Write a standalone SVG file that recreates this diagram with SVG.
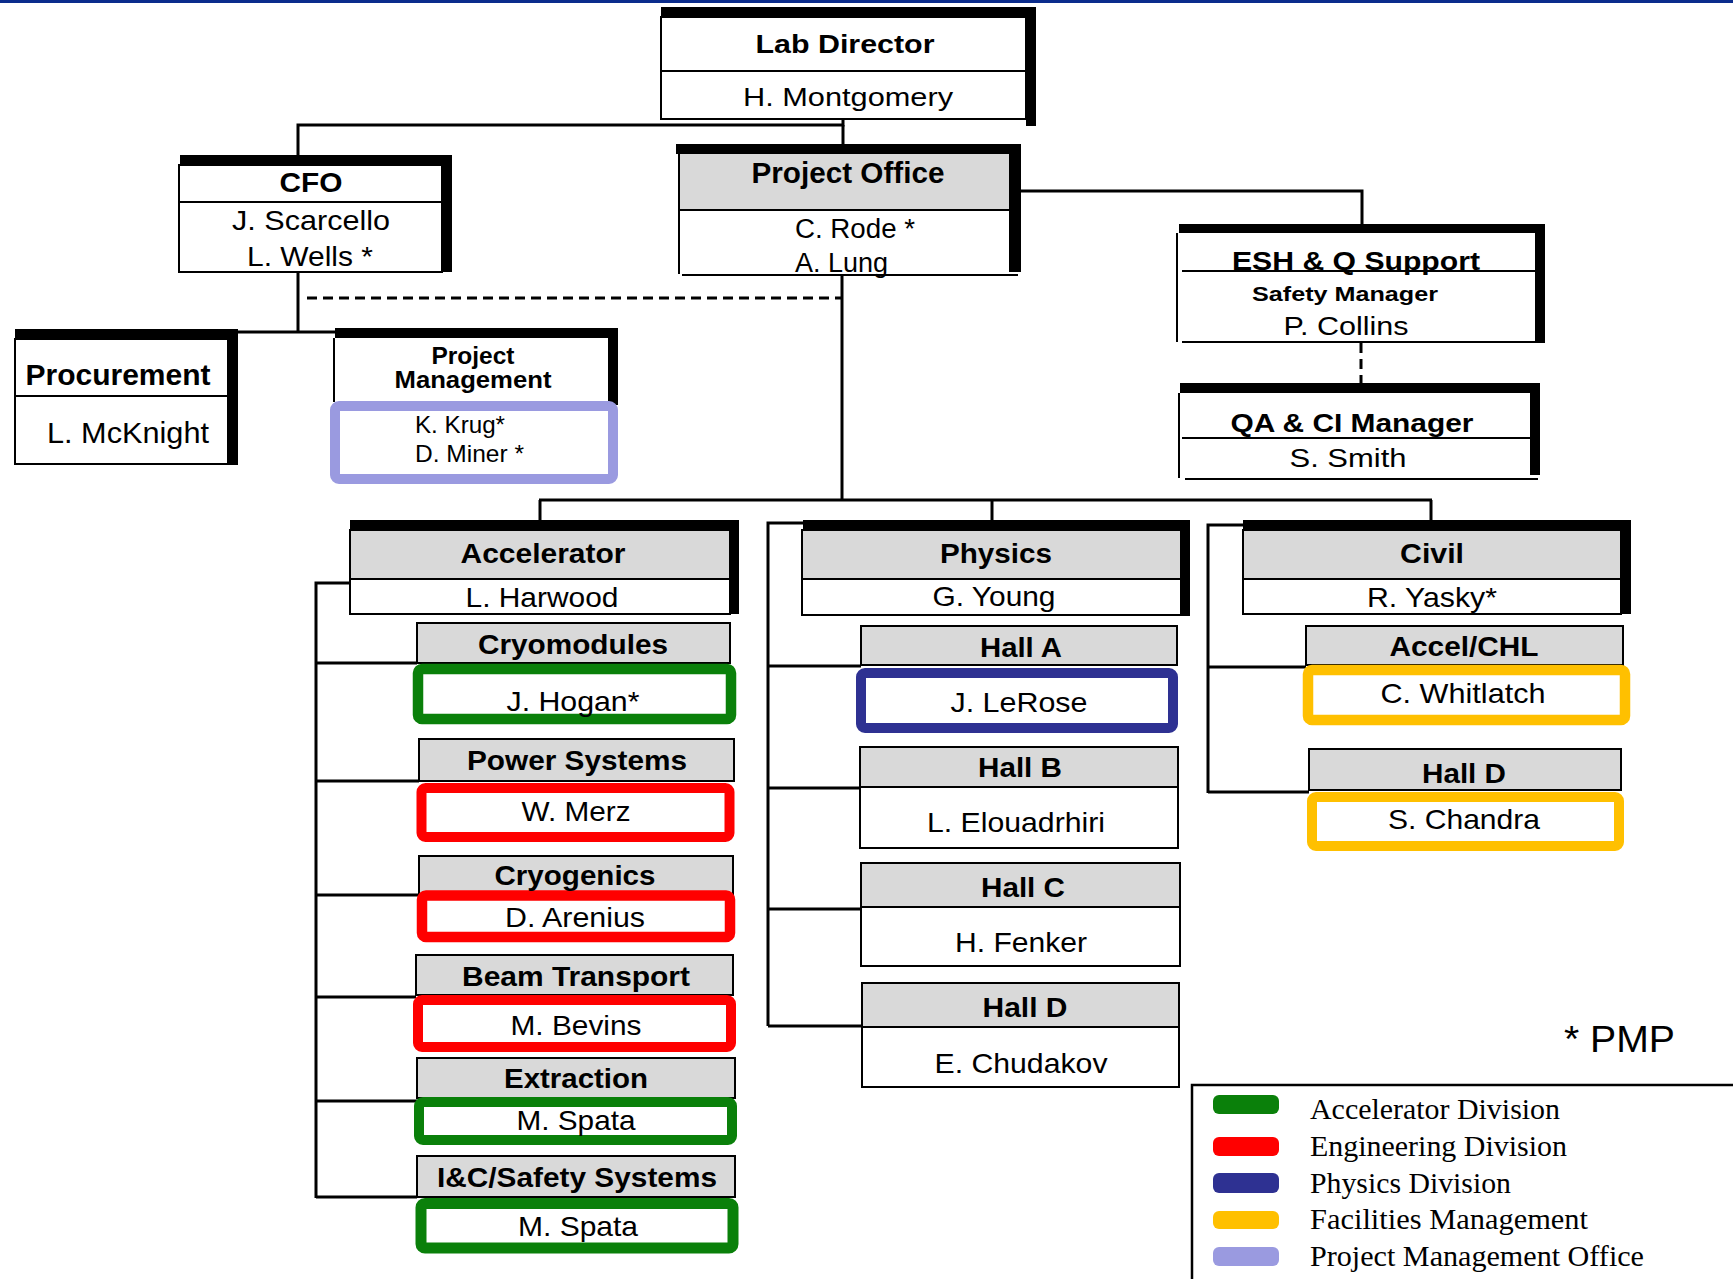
<svg xmlns="http://www.w3.org/2000/svg" width="1733" height="1279" viewBox="0 0 1733 1279">
<style>
text{font-family:"Liberation Sans",Arial,sans-serif;fill:#000}
.hd{font-weight:bold;text-anchor:middle}
.nm{text-anchor:middle}
.st{text-anchor:start}
.bar{fill:#000}
.bd{fill:#fff;stroke:#000;stroke-width:2}
.ln{stroke:#000;stroke-width:2;fill:none}
.gr{fill:#d9d9d9;stroke:#000;stroke-width:2}
.gf{fill:#d9d9d9}
.con{stroke:#000;stroke-width:3;fill:none}
.dash{stroke-dasharray:10 6}
.cg{fill:#fff;stroke:#0a800a;rx:4}
.cr{fill:#fff;stroke:#ff0000;rx:4}
.cb{fill:#fff;stroke:#2e3192;rx:4}
.cy{fill:#fff;stroke:#ffc000;rx:4}
.cl{fill:#fff;stroke:#9a9ae0;rx:4}
.lg{font-family:"Liberation Serif","Times New Roman",serif;font-size:29px}
</style>
<rect x="0" y="0" width="1733" height="3" fill="#0b2c8c"/>

<g id="connectors">
<polyline class="con" points="843,119 843,125 298,125 298,155"/>
<line class="con" x1="843" y1="125" x2="843" y2="144"/>
<polyline class="con" points="1021,191 1362,191 1362,224"/>
<line class="con" x1="298" y1="272" x2="298" y2="332"/>
<line class="con" x1="237" y1="332" x2="335" y2="332"/>
<line class="con dash" x1="307" y1="298" x2="842" y2="298"/>
<line class="con" x1="842" y1="275" x2="842" y2="500"/>
<line class="con" x1="539" y1="500" x2="1432" y2="500"/>
<line class="con" x1="540" y1="500" x2="540" y2="520"/>
<line class="con" x1="992" y1="500" x2="992" y2="520"/>
<line class="con" x1="1431" y1="500" x2="1431" y2="520"/>
<line class="con dash" x1="1361" y1="343" x2="1361" y2="383"/>
<polyline class="con" points="350,583 316,583 316,1198"/>
<line class="con" x1="316" y1="663" x2="417" y2="663"/>
<line class="con" x1="316" y1="781" x2="419" y2="781"/>
<line class="con" x1="316" y1="895" x2="419" y2="895"/>
<line class="con" x1="316" y1="997" x2="416" y2="997"/>
<line class="con" x1="316" y1="1101" x2="417" y2="1101"/>
<line class="con" x1="316" y1="1197" x2="417" y2="1197"/>
<polyline class="con" points="803,523 768,523 768,1026"/>
<line class="con" x1="768" y1="666" x2="861" y2="666"/>
<line class="con" x1="768" y1="788" x2="860" y2="788"/>
<line class="con" x1="768" y1="909" x2="861" y2="909"/>
<line class="con" x1="768" y1="1026" x2="862" y2="1026"/>
<polyline class="con" points="1243,525 1208,525 1208,793"/>
<line class="con" x1="1208" y1="667" x2="1306" y2="667"/>
<line class="con" x1="1208" y1="792" x2="1309" y2="792"/>
</g>

<g id="lab-director">
<rect class="bd" x="661" y="17" width="365" height="102"/>
<line class="ln" x1="661" y1="71" x2="1026" y2="71"/>
<rect class="bar" x="661" y="7" width="375" height="10"/>
<rect class="bar" x="1026" y="7" width="10" height="119"/>
<text class="hd" x="845" y="53" font-size="26" textLength="179" lengthAdjust="spacingAndGlyphs">Lab Director</text>
<text class="nm" x="848" y="106" font-size="26" textLength="210" lengthAdjust="spacingAndGlyphs">H. Montgomery</text>
</g>

<g id="cfo">
<rect class="bd" x="179" y="165" width="263" height="107"/>
<line class="ln" x1="179" y1="202" x2="442" y2="202"/>
<rect class="bar" x="180" y="155" width="272" height="10"/>
<rect class="bar" x="442" y="155" width="10" height="117"/>
<text class="hd" x="311" y="192" font-size="28" textLength="63" lengthAdjust="spacingAndGlyphs">CFO</text>
<text class="nm" x="311" y="230" font-size="28" textLength="158" lengthAdjust="spacingAndGlyphs">J. Scarcello</text>
<text class="nm" x="310" y="266" font-size="28" textLength="126" lengthAdjust="spacingAndGlyphs">L. Wells *</text>
</g>

<g id="procurement">
<rect class="bd" x="15" y="339" width="213" height="125"/>
<line class="ln" x1="15" y1="396" x2="228" y2="396"/>
<rect class="bar" x="15" y="329" width="223" height="10"/>
<rect class="bar" x="228" y="329" width="10" height="136"/>
<text class="hd" x="118" y="385" font-size="30" textLength="185" lengthAdjust="spacingAndGlyphs">Procurement</text>
<text class="nm" x="128" y="443" font-size="29" textLength="162" lengthAdjust="spacingAndGlyphs">L. McKnight</text>
</g>

<g id="project-management">
<line class="ln" x1="334" y1="338" x2="334" y2="402"/>
<rect class="bar" x="335" y="328" width="283" height="10"/>
<rect class="bar" x="608" y="328" width="10" height="77"/>
<rect class="cl" x="335" y="406" width="278" height="73" stroke-width="10"/>
<text class="hd" x="473" y="364" font-size="23" textLength="83" lengthAdjust="spacingAndGlyphs">Project</text>
<text class="hd" x="473" y="388" font-size="23" textLength="157" lengthAdjust="spacingAndGlyphs">Management</text>
<text class="st" x="415" y="433" font-size="24" textLength="90" lengthAdjust="spacingAndGlyphs">K. Krug*</text>
<text class="st" x="415" y="462" font-size="24" textLength="109" lengthAdjust="spacingAndGlyphs">D. Miner *</text>
</g>

<g id="project-office">
<rect class="gf" x="679" y="154" width="330" height="56"/>
<line class="ln" x1="679" y1="154" x2="679" y2="274"/>
<line class="ln" x1="679" y1="210" x2="1009" y2="210"/>
<line class="ln" x1="682" y1="275" x2="1018" y2="275"/>
<rect class="bar" x="676" y="144" width="345" height="10"/>
<rect class="bar" x="1009" y="144" width="12" height="128"/>
<text class="hd" x="848" y="183" font-size="29" textLength="193" lengthAdjust="spacingAndGlyphs">Project Office</text>
<text class="st" x="795" y="238" font-size="27" textLength="120" lengthAdjust="spacingAndGlyphs">C. Rode *</text>
<text class="st" x="795" y="272" font-size="27" textLength="93" lengthAdjust="spacingAndGlyphs">A. Lung</text>
</g>

<g id="esh-q-support">
<line class="ln" x1="1177" y1="233" x2="1177" y2="342"/>
<line class="ln" x1="1182" y1="271" x2="1535" y2="271"/>
<line class="ln" x1="1182" y1="342" x2="1535" y2="342"/>
<rect class="bar" x="1179" y="224" width="366" height="9"/>
<rect class="bar" x="1535" y="224" width="10" height="119"/>
<text class="hd" x="1356" y="270" font-size="26" textLength="248" lengthAdjust="spacingAndGlyphs">ESH &amp; Q Support</text>
<text class="hd" x="1345" y="301" font-size="21" textLength="186" lengthAdjust="spacingAndGlyphs">Safety Manager</text>
<text class="nm" x="1346" y="335" font-size="26" textLength="125" lengthAdjust="spacingAndGlyphs">P. Collins</text>
</g>

<g id="qa-ci-manager">
<line class="ln" x1="1179" y1="393" x2="1179" y2="478"/>
<line class="ln" x1="1182" y1="438" x2="1530" y2="438"/>
<line class="ln" x1="1185" y1="479" x2="1538" y2="479"/>
<rect class="bar" x="1180" y="383" width="360" height="10"/>
<rect class="bar" x="1530" y="383" width="10" height="92"/>
<text class="hd" x="1352" y="432" font-size="25" textLength="243" lengthAdjust="spacingAndGlyphs">QA &amp; CI Manager</text>
<text class="nm" x="1348" y="467" font-size="26" textLength="117" lengthAdjust="spacingAndGlyphs">S. Smith</text>
</g>

<g id="accelerator">
<rect class="bd" x="350" y="530" width="380" height="84"/>
<rect class="gr" x="350" y="530" width="380" height="49"/>
<rect class="bar" x="350" y="520" width="389" height="10"/>
<rect class="bar" x="730" y="520" width="9" height="94"/>
<text class="hd" x="543" y="563" font-size="28" textLength="165" lengthAdjust="spacingAndGlyphs">Accelerator</text>
<text class="nm" x="542" y="607" font-size="28" textLength="153" lengthAdjust="spacingAndGlyphs">L. Harwood</text>
</g>

<g id="physics">
<rect class="bd" x="802" y="530" width="379" height="85"/>
<rect class="gr" x="802" y="530" width="379" height="49"/>
<rect class="bar" x="803" y="520" width="387" height="10"/>
<rect class="bar" x="1181" y="520" width="9" height="96"/>
<text class="hd" x="996" y="563" font-size="28" textLength="112" lengthAdjust="spacingAndGlyphs">Physics</text>
<text class="nm" x="994" y="606" font-size="28" textLength="123" lengthAdjust="spacingAndGlyphs">G. Young</text>
</g>

<g id="civil">
<rect class="bd" x="1243" y="530" width="378" height="84"/>
<rect class="gr" x="1243" y="530" width="378" height="49"/>
<rect class="bar" x="1243" y="520" width="388" height="10"/>
<rect class="bar" x="1621" y="520" width="10" height="94"/>
<text class="hd" x="1432" y="563" font-size="28" textLength="64" lengthAdjust="spacingAndGlyphs">Civil</text>
<text class="nm" x="1432" y="607" font-size="28" textLength="130" lengthAdjust="spacingAndGlyphs">R. Yasky*</text>
</g>

<g id="cryomodules">
<rect class="gr" x="417" y="623" width="313" height="40"/>
<rect class="cg" x="418" y="669" width="313" height="50" stroke-width="10.5"/>
<text class="hd" x="573" y="654" font-size="27" textLength="190" lengthAdjust="spacingAndGlyphs">Cryomodules</text>
<text class="nm" x="573" y="711" font-size="28" textLength="133" lengthAdjust="spacingAndGlyphs">J. Hogan*</text>
</g>

<g id="power-systems">
<rect class="gr" x="419" y="739" width="315" height="42"/>
<rect class="cr" x="421.5" y="788" width="308" height="49" stroke-width="10"/>
<text class="hd" x="577" y="770" font-size="27" textLength="220" lengthAdjust="spacingAndGlyphs">Power Systems</text>
<text class="nm" x="576" y="821" font-size="28" textLength="109" lengthAdjust="spacingAndGlyphs">W. Merz</text>
</g>

<g id="cryogenics">
<rect class="gr" x="419" y="856" width="314" height="39"/>
<rect class="cr" x="422" y="895.5" width="308" height="41.5" stroke-width="10.5"/>
<text class="hd" x="575" y="885" font-size="27" textLength="161" lengthAdjust="spacingAndGlyphs">Cryogenics</text>
<text class="nm" x="575" y="927" font-size="28" textLength="140" lengthAdjust="spacingAndGlyphs">D. Arenius</text>
</g>

<g id="beam-transport">
<rect class="gr" x="416" y="955" width="317" height="40"/>
<rect class="cr" x="418" y="1000" width="313" height="47" stroke-width="10"/>
<text class="hd" x="576" y="986" font-size="27" textLength="228" lengthAdjust="spacingAndGlyphs">Beam Transport</text>
<text class="nm" x="576" y="1035" font-size="28" textLength="131" lengthAdjust="spacingAndGlyphs">M. Bevins</text>
</g>

<g id="extraction">
<rect class="gr" x="417" y="1058" width="318" height="40"/>
<rect class="cg" x="419" y="1102" width="313" height="38" stroke-width="10"/>
<text class="hd" x="576" y="1088" font-size="27" textLength="144" lengthAdjust="spacingAndGlyphs">Extraction</text>
<text class="nm" x="576" y="1130" font-size="28" textLength="119" lengthAdjust="spacingAndGlyphs">M. Spata</text>
</g>

<g id="ic-safety-systems">
<rect class="gr" x="417" y="1156" width="318" height="41"/>
<rect class="cg" x="421" y="1203.5" width="312" height="44.5" stroke-width="11"/>
<text class="hd" x="577" y="1187" font-size="27" textLength="280" lengthAdjust="spacingAndGlyphs">I&amp;C/Safety Systems</text>
<text class="nm" x="578" y="1236" font-size="28" textLength="120" lengthAdjust="spacingAndGlyphs">M. Spata</text>
</g>

<g id="hall-a">
<rect class="gr" x="861" y="626" width="316" height="39"/>
<rect class="cb" x="861" y="673" width="312" height="55" stroke-width="10"/>
<text class="hd" x="1021" y="657" font-size="27" textLength="82" lengthAdjust="spacingAndGlyphs">Hall A</text>
<text class="nm" x="1019" y="712" font-size="28" textLength="137" lengthAdjust="spacingAndGlyphs">J. LeRose</text>
</g>

<g id="hall-b">
<rect class="gr" x="860" y="747" width="318" height="40"/>
<rect class="bd" x="860" y="787" width="318" height="61"/>
<text class="hd" x="1020" y="777" font-size="27" textLength="84" lengthAdjust="spacingAndGlyphs">Hall B</text>
<text class="nm" x="1016" y="832" font-size="28" textLength="178" lengthAdjust="spacingAndGlyphs">L. Elouadrhiri</text>
</g>

<g id="hall-c">
<rect class="gr" x="861" y="863" width="319" height="44"/>
<rect class="bd" x="861" y="907" width="319" height="59"/>
<text class="hd" x="1023" y="897" font-size="27" textLength="84" lengthAdjust="spacingAndGlyphs">Hall C</text>
<text class="nm" x="1021" y="952" font-size="28" textLength="132" lengthAdjust="spacingAndGlyphs">H. Fenker</text>
</g>

<g id="hall-d-physics">
<rect class="gr" x="862" y="983" width="317" height="44"/>
<rect class="bd" x="862" y="1027" width="317" height="60"/>
<text class="hd" x="1025" y="1017" font-size="27" textLength="85" lengthAdjust="spacingAndGlyphs">Hall D</text>
<text class="nm" x="1021" y="1073" font-size="28" textLength="173" lengthAdjust="spacingAndGlyphs">E. Chudakov</text>
</g>

<g id="accel-chl">
<rect class="gr" x="1306" y="626" width="317" height="39"/>
<rect class="cy" x="1308" y="670" width="317" height="50" stroke-width="10.5"/>
<text class="hd" x="1464" y="656" font-size="27" textLength="149" lengthAdjust="spacingAndGlyphs">Accel/CHL</text>
<text class="nm" x="1463" y="703" font-size="28" textLength="165" lengthAdjust="spacingAndGlyphs">C. Whitlatch</text>
</g>

<g id="hall-d-civil">
<rect class="gr" x="1309" y="749" width="312" height="41"/>
<rect class="cy" x="1312" y="797" width="307" height="49" stroke-width="10"/>
<text class="hd" x="1464" y="783" font-size="27" textLength="84" lengthAdjust="spacingAndGlyphs">Hall D</text>
<text class="nm" x="1464" y="829" font-size="28" textLength="152" lengthAdjust="spacingAndGlyphs">S. Chandra</text>
</g>

<text x="1564" y="1052" font-size="37" textLength="111" lengthAdjust="spacingAndGlyphs">* PMP</text>

<g id="legend">
<polyline points="1733,1085 1192,1085 1192,1279" fill="none" stroke="#000" stroke-width="2.5"/>
<rect x="1213" y="1095" width="66" height="19" rx="6" fill="#0a800a"/>
<rect x="1213" y="1137" width="66" height="19" rx="6" fill="#ff0000"/>
<rect x="1213" y="1173" width="66" height="20" rx="6" fill="#2e3192"/>
<rect x="1213" y="1211" width="66" height="18" rx="6" fill="#ffc000"/>
<rect x="1213" y="1247" width="66" height="19" rx="6" fill="#9a9ae0"/>
<text class="lg" x="1310" y="1119" textLength="250" lengthAdjust="spacingAndGlyphs">Accelerator Division</text>
<text class="lg" x="1310" y="1156" textLength="257" lengthAdjust="spacingAndGlyphs">Engineering Division</text>
<text class="lg" x="1310" y="1193" textLength="201" lengthAdjust="spacingAndGlyphs">Physics Division</text>
<text class="lg" x="1310" y="1229" textLength="278" lengthAdjust="spacingAndGlyphs">Facilities Management</text>
<text class="lg" x="1310" y="1266" textLength="334" lengthAdjust="spacingAndGlyphs">Project Management Office</text>
</g>
</svg>
